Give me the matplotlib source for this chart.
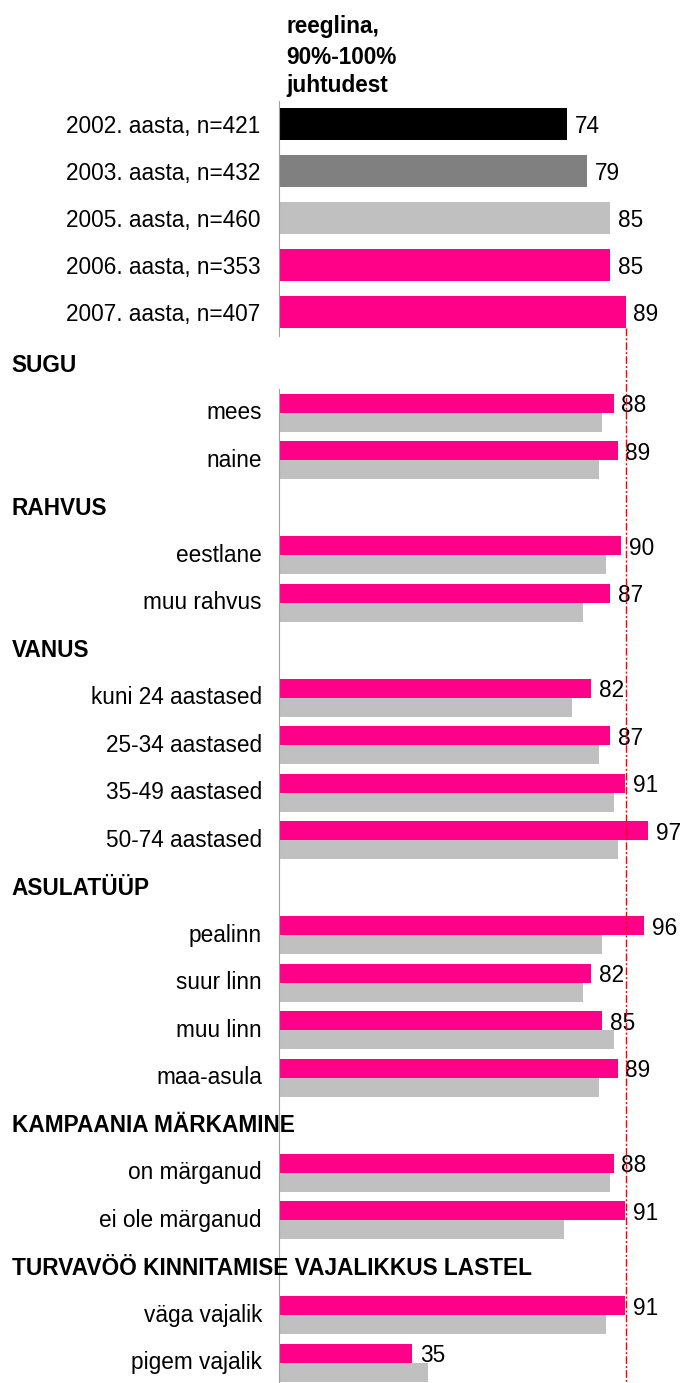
import matplotlib
matplotlib.use('Agg')
import matplotlib.pyplot as plt
import matplotlib.transforms as mtransforms
from matplotlib.lines import Line2D

plt.rcParams['font.family'] = ['Liberation Sans', 'DejaVu Sans']

# andmed
header_lines = ['reeglina,', '90%-100%', 'juhtudest']

year_labels = ['2002. aasta, n=421', '2003. aasta, n=432', '2005. aasta, n=460',
               '2006. aasta, n=353', '2007. aasta, n=407']
year_values = [74, 79, 85, 85, 89]

sections = ['SUGU', 'RAHVUS', 'VANUS', 'ASULATÜÜP', 'KAMPAANIA MÄRKAMINE',
            'TURVAVÖÖ KINNITAMISE VAJALIKKUS LASTEL']
section_sizes = [2, 2, 4, 4, 2, 2]
sub_labels = ['mees', 'naine', 'eestlane', 'muu rahvus', 'kuni 24 aastased',
              '25-34 aastased', '35-49 aastased', '50-74 aastased', 'pealinn',
              'suur linn', 'muu linn', 'maa-asula', 'on märganud', 'ei ole märganud',
              'väga vajalik', 'pigem vajalik']
val_2007 = [88, 89, 90, 87, 82, 87, 91, 97, 96, 82, 85, 89, 88, 91, 91, 35]
val_2006 = [85, 84, 86, 80, 77, 84, 88, 89, 85, 80, 88, 84, 87, 75, 86, 39]

pink = '#FF0088'
light = '#C0C0C0'
year_colors = ['#000000', '#808080', light, pink, pink]
axis_col = '#A0A0A0'
fs = 16.3

W, H = 680, 1383
fig = plt.figure(figsize=(W / 100, H / 100), dpi=100)

left = 279.3 / W
ax_top = fig.add_axes([left, 1 - 335.7 / H, 1 - left, 235 / H])
ax_bot = fig.add_axes([left, 0, 1 - left, 994 / H])

for ax in (ax_top, ax_bot):
    for s in ['top', 'right', 'bottom']:
        ax.spines[s].set_visible(False)
    ax.spines['left'].set_color(axis_col)
    ax.spines['left'].set_linewidth(0.8)
    ax.set_xticks([])
    ax.tick_params(axis='y', length=0, labelsize=fs)

# ülemine osa: aastad
h_top = 0.675
ypos = list(range(len(year_values)))
ax_top.barh(ypos, year_values, height=h_top, color=year_colors)
ax_top.set_xlim(0, (W - 279.3) / 3.892)
ax_top.set_ylim(len(year_values) - 0.5, -0.5)
ax_top.set_yticks(ypos)
ax_top.set_yticklabels(year_labels)
ax_top.tick_params(axis='y', pad=13.5)
for y, v in zip(ypos, year_values):
    ax_top.annotate(str(v), (v, y), xytext=(5.5, 0), textcoords='offset points',
                    va='center_baseline', ha='left', fontsize=fs)

# alumine osa: rühmad
rows, head_rows = [], []
r = -1
for n in section_sizes:
    head_rows.append(r)
    r += 1
    for _ in range(n):
        rows.append(r)
        r += 1

bh = 0.4
ax_bot.barh([y - bh / 2 for y in rows], val_2007, height=bh, color=pink)
ax_bot.barh([y + bh / 2 for y in rows], val_2006, height=bh, color=light)
ax_bot.set_xlim(0, (W - 279.3) / 3.8)
ax_bot.set_ylim(rows[-1] + 0.43, -0.5)
ax_bot.set_yticks(rows)
ax_bot.set_yticklabels(sub_labels)
ax_bot.tick_params(axis='y', pad=12.5)
for lbl in ax_bot.get_yticklabels():
    lbl.set_va('center')
for y, v in zip(rows, val_2007):
    ax_bot.annotate(str(v), (v, y - bh / 2), xytext=(5.5, 0), textcoords='offset points',
                    va='center_baseline', ha='left', fontsize=fs)

tr = mtransforms.blended_transform_factory(fig.transFigure, ax_bot.transData)
tr = tr + mtransforms.ScaledTranslation(0, 1.5 / 72, fig.dpi_scale_trans)
for name, y in zip(sections, head_rows):
    ax_bot.text(11.7 / W, y, name, transform=tr, ha='left', va='center_baseline',
                fontsize=fs, fontweight='bold', clip_on=False)

# pealkiri
for line, base in zip(header_lines, [33.3, 64.3, 92.3]):
    fig.text(286 / W, 1 - base / H, line, ha='left', va='baseline',
             fontsize=fs, fontweight='bold')

# punane katkendjoon 2007 väärtuse kohal
y_start = fig.transFigure.inverted().transform(
    ax_top.transData.transform((0, ypos[-1] + h_top / 2)))[1]
trl = mtransforms.blended_transform_factory(ax_top.transData, fig.transFigure)
fig.add_artist(Line2D([year_values[-1], year_values[-1]], [y_start, 0], transform=trl,
                      color='#FF0000', lw=1.0, ls=(0, (5.5, 1.5, 1.5, 1.5))))

fig.savefig('out.png', dpi=100)
